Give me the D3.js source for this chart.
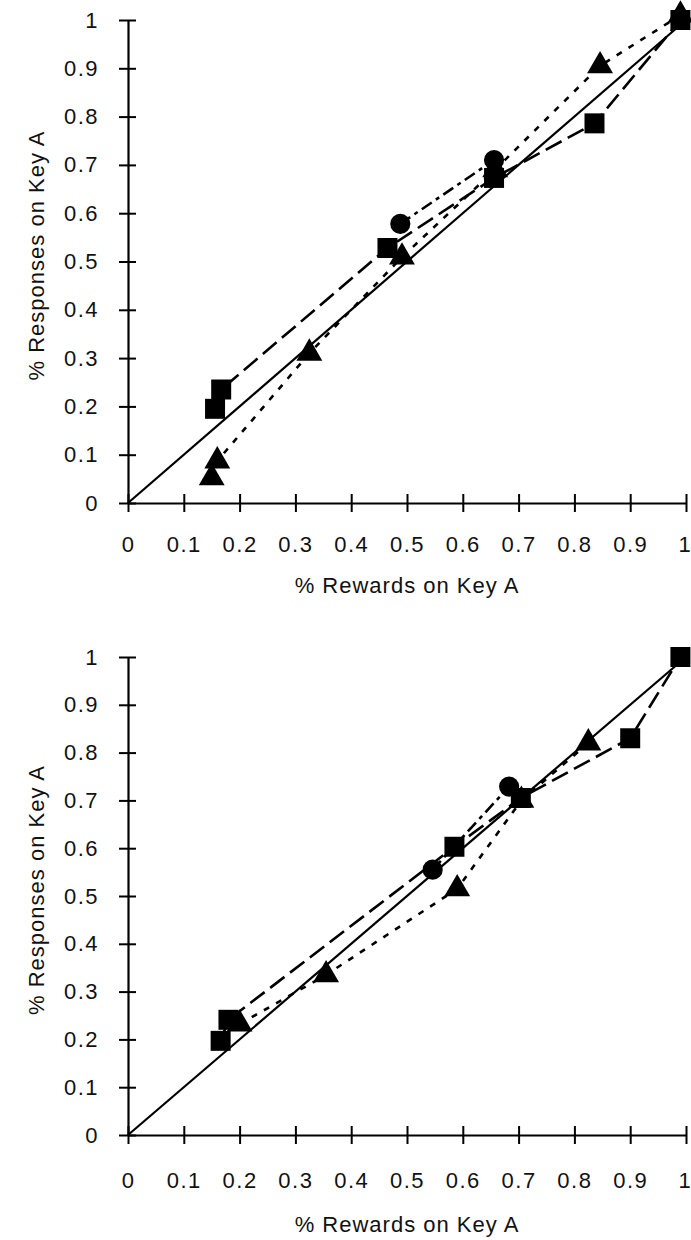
<!DOCTYPE html>
<html><head><meta charset="utf-8">
<script src="https://cdn.jsdelivr.net/npm/d3@7"></script>
<style>body{margin:0;background:#fff}svg{display:block}</style>
</head><body>
<svg id="c" width="691" height="1240"></svg>
<script>
// ---- data ----
const tickValues = [0,0.1,0.2,0.3,0.4,0.5,0.6,0.7,0.8,0.9,1];
const xTickLabels = ["0","0.1","0.2","0.3","0.4","0.5","0.6","0.7","0.8","0.9","1"];
const yTickLabels = ["0","0.1","0.2","0.3","0.4","0.5","0.6","0.7","0.8","0.9","1"];
const xTitle = "% Rewards on Key A";
const yTitle = "% Responses on Key A";
const diagonalX = [0,1];
const diagonalY = [0,1];

// top panel
const topSquareX   = [0.156,0.167,0.465,0.656,0.836,0.99];
const topSquareY   = [0.195,0.235,0.528,0.673,0.786,1.00];
const topTriangleX = [0.150,0.160,0.325,0.491,0.658,0.846,0.99];
const topTriangleY = [0.052,0.087,0.310,0.509,0.690,0.905,1.01];
const topCircleX   = [0.488,0.656];
const topCircleY   = [0.578,0.710];

// bottom panel
const botSquareX   = [0.166,0.180,0.585,0.704,0.900,0.99];
const botSquareY   = [0.197,0.241,0.603,0.705,0.830,1.00];
const botTriangleX = [0.200,0.355,0.590,0.705,0.825];
const botTriangleY = [0.232,0.335,0.515,0.700,0.820];
const botCircleX   = [0.546,0.683];
const botCircleY   = [0.555,0.729];

// ---- drawing ----
const svg = d3.select("#c");
const FONT = "'Liberation Sans', Arial, Helvetica, sans-serif";

function zip(xs, ys){ return xs.map((v,i)=>[v, ys[i]]); }

function panel(cfg){
  const x = d3.scaleLinear().domain([0,1]).range([cfg.left, cfg.right]);
  const y = d3.scaleLinear().domain([0,1]).range([cfg.bottom, cfg.top]);
  const g = svg.append("g");

  // x axis
  const xa = g.append("g").attr("transform", `translate(0,${cfg.bottom})`)
    .call(d3.axisBottom(x).tickValues(tickValues)
      .tickFormat((d,i)=>xTickLabels[i]).tickSize(0).tickSizeOuter(0).tickPadding(cfg.xPad));
  xa.select(".domain").attr("stroke","#000").attr("stroke-width",2.2);
  xa.selectAll(".tick").append("line").attr("y1",-9).attr("y2",9)
    .attr("stroke","#000").attr("stroke-width",2);
  xa.selectAll("text").attr("font-family",FONT).attr("font-size",22)
    .attr("letter-spacing","1.5px").attr("fill","#111");
  xa.selectAll(".tick").filter(d=>d===1).select("text")
    .attr("letter-spacing","0px").attr("dx","-2");

  // y axis
  const ya = g.append("g").attr("transform", `translate(${cfg.left},0)`)
    .call(d3.axisLeft(y).tickValues(tickValues)
      .tickFormat((d,i)=>yTickLabels[i]).tickSize(0).tickSizeOuter(0).tickPadding(29));
  ya.select(".domain").attr("stroke","#000").attr("stroke-width",2.2);
  ya.selectAll(".tick").append("line").attr("x1",-9).attr("x2",8)
    .attr("stroke","#000").attr("stroke-width",2);
  ya.selectAll("text").attr("font-family",FONT).attr("font-size",22)
    .attr("letter-spacing","1.5px").attr("fill","#111");

  // titles
  g.append("text").attr("x",(cfg.left+cfg.right)/2).attr("y",cfg.xTitleY)
    .attr("text-anchor","middle").attr("font-family",FONT).attr("font-size",22)
    .attr("letter-spacing","1px").attr("fill","#111").text(xTitle);
  g.append("text").attr("transform",`translate(44,${(cfg.top+cfg.bottom)/2 - 6}) rotate(-90)`)
    .attr("text-anchor","middle").attr("font-family",FONT).attr("font-size",22)
    .attr("letter-spacing","1px").attr("fill","#111").text(yTitle);

  const line = d3.line().x(d=>x(d[0])).y(d=>y(d[1]));

  // diagonal
  g.append("path").attr("d", line(zip(diagonalX, diagonalY)))
    .attr("fill","none").attr("stroke","#000").attr("stroke-width",2.2);

  // series lines
  g.append("path").attr("d", line(zip(cfg.sqX, cfg.sqY)))
    .attr("fill","none").attr("stroke","#000").attr("stroke-width",2.6)
    .attr("stroke-dasharray","18,7");
  g.append("path").attr("d", line(zip(cfg.trX, cfg.trY)))
    .attr("fill","none").attr("stroke","#000").attr("stroke-width",2.6)
    .attr("stroke-dasharray","6,8");
  g.append("path").attr("d", line(zip(cfg.ciX, cfg.ciY)))
    .attr("fill","none").attr("stroke","#000").attr("stroke-width",2.6)
    .attr("stroke-dasharray","12,5,4,5");

  // markers
  const tri = d3.symbol().type(d3.symbolTriangle).size(290);
  const sq = d3.symbol().type(d3.symbolSquare).size(400);
  const ci = d3.symbol().type(d3.symbolCircle).size(320);
  g.selectAll(".tri").data(zip(cfg.trX,cfg.trY)).join("path")
    .attr("transform",d=>`translate(${x(d[0])},${y(d[1])})`).attr("d",tri).attr("fill","#000");
  g.selectAll(".ci").data(zip(cfg.ciX,cfg.ciY)).join("path")
    .attr("transform",d=>`translate(${x(d[0])},${y(d[1])})`).attr("d",ci).attr("fill","#000");
  g.selectAll(".sq").data(zip(cfg.sqX,cfg.sqY)).join("path")
    .attr("transform",d=>`translate(${x(d[0])},${y(d[1])})`).attr("d",sq).attr("fill","#000");
}

panel({left:128, right:686, top:20, bottom:503, xPad:33, xTitleY:593,
  sqX:topSquareX, sqY:topSquareY, trX:topTriangleX, trY:topTriangleY, ciX:topCircleX, ciY:topCircleY});
panel({left:128, right:686, top:657, bottom:1135, xPad:37, xTitleY:1232,
  sqX:botSquareX, sqY:botSquareY, trX:botTriangleX, trY:botTriangleY, ciX:botCircleX, ciY:botCircleY});
</script>
</body></html>
